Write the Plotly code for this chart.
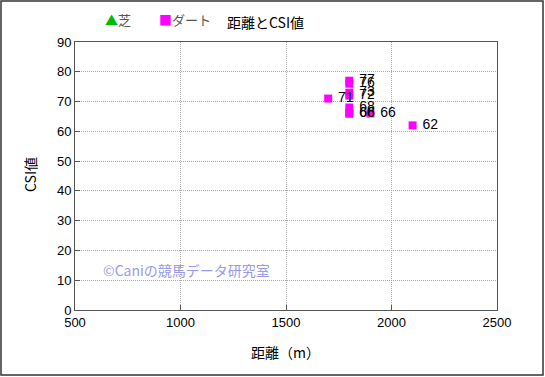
import plotly.graph_objects as go

dist_dirt = [1800, 1800, 1800, 1800, 1700, 1800, 1800, 1800, 1900, 2100]
csi_dirt = [77, 76, 73, 72, 71, 68, 66, 66, 66, 62]
labels_dirt = [" " + str(v) for v in csi_dirt]
dist_turf = []
csi_turf = []

FONT = "Liberation Sans, Noto Sans CJK JP, sans-serif"
JP = "Noto Sans CJK JP, sans-serif"

W, H = 545, 377
L, R, T, B = 75, 48, 42, 67
PW, PH = W - L - R, H - T - B


def px(xp):
    return (xp - L) / PW


def py(yp):
    return (H - B - yp) / PH


fig = go.Figure()
fig.add_trace(go.Scatter(x=dist_turf, y=csi_turf, mode="markers", name="芝",
                         marker=dict(symbol="triangle-up", color="#00cc00", size=9)))
fig.add_trace(go.Scatter(x=dist_dirt, y=csi_dirt, mode="markers+text", name="ダート",
                         text=labels_dirt, textposition="middle right",
                         textfont=dict(size=14, color="black", family=FONT),
                         marker=dict(symbol="square", color="#ff00ff", size=8)))

axis_common = dict(showgrid=True, gridcolor="#a8a8a8", griddash="1px,1px", gridwidth=1,
                   showline=True, linecolor="#555555", mirror=True, zeroline=False,
                   ticks="inside", ticklen=5, tickcolor="#555555", automargin=False,
                   tickfont=dict(size=13, family=FONT))

fig.update_layout(
    width=W, height=H,
    margin=dict(l=L, r=R, t=T, b=B),
    paper_bgcolor="white", plot_bgcolor="white",
    font=dict(family=FONT, size=13, color="black"),
    showlegend=False,
    xaxis=dict(range=[500, 2500], dtick=500, **axis_common),
    yaxis=dict(range=[0, 90], dtick=10, **axis_common),
)

# title
fig.add_annotation(text="距離とCSI値", xref="paper", yref="paper", x=px(265), y=py(22),
                   xanchor="center", yanchor="middle", showarrow=False,
                   font=dict(size=14, family=JP, color="black"))
# legend
fig.add_annotation(text="<span style='color:#00bb00'>▲</span>芝", xref="paper", yref="paper",
                   x=px(103), y=py(19), xanchor="left", yanchor="middle", showarrow=False,
                   font=dict(size=13, family=JP, color="#555555"))
fig.add_annotation(text="<span style='color:#ff00ff'>■</span>ダート", xref="paper", yref="paper",
                   x=px(157), y=py(19), xanchor="left", yanchor="middle", showarrow=False,
                   font=dict(size=13, family=JP, color="#555555"))
# axis titles
fig.add_annotation(text="距離（m）", xref="paper", yref="paper", x=px(285), y=py(352),
                   xanchor="center", yanchor="middle", showarrow=False,
                   font=dict(size=14, family=JP, color="black"))
fig.add_annotation(text="CSI値", xref="paper", yref="paper", x=px(30), y=py(175),
                   xanchor="center", yanchor="middle", showarrow=False, textangle=-90,
                   font=dict(size=14, family=JP, color="black"))
# watermark
fig.add_annotation(text="©Caniの競馬データ研究室", xref="paper", yref="paper",
                   x=px(101), y=py(270), xanchor="left", yanchor="middle", showarrow=False,
                   font=dict(size=14, color="#9999ee", family=JP))

fig.add_shape(type="rect", xref="paper", yref="paper",
              x0=px(1), x1=px(543), y0=py(375), y1=py(1),
              line=dict(color="#333333", width=1.5), layer="below")

fig.write_html("out.html", config={"displayModeBar": False},
               post_script="document.body.style.margin='0px';document.body.style.overflow='hidden';")
